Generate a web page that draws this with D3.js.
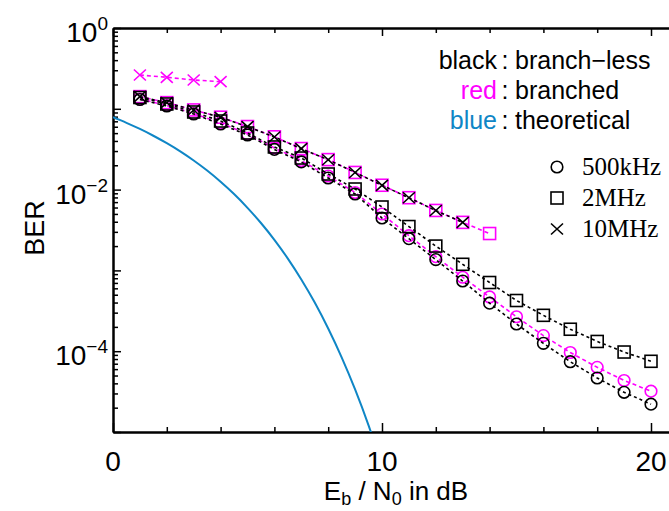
<!DOCTYPE html>
<html><head><meta charset="utf-8">
<script src="https://cdn.jsdelivr.net/npm/d3@7"></script>
<style>html,body{margin:0;padding:0;background:#fff;}svg{display:block;}</style>
</head><body>
<svg id="chart" width="669" height="511"></svg>
<script>
// ---------------- data ----------------
const snrDb = [1,2,3,4,5,6,7,8,9,10,11,12,13,14,15,16,17,18,19,20];
const black500k = [0.1303,0.1083,0.0862,0.0648,0.0474,0.0314,0.0220,0.01392,0.00882,0.00445,0.00247,0.00136,0.000739,0.000393,0.000217,0.000125,0.0000741,0.0000466,0.0000310,0.0000221];
const black2M = [0.1380,0.1147,0.0913,0.0706,0.0502,0.0337,0.0246,0.0156,0.01017,0.00609,0.00349,0.00200,0.00119,0.000708,0.000424,0.000278,0.000187,0.000132,0.0000977,0.0000750];
const black10M = [0.1412,0.1190,0.0966,0.0785,0.0601,0.0448,0.0321,0.0234,0.01628,0.01130,0.00792,0.00551,0.00392];
const red500k = [0.1322,0.1098,0.0875,0.0667,0.0488,0.0327,0.0229,0.01474,0.00921,0.00499,0.00269,0.00148,0.000823,0.000469,0.000267,0.000156,0.0000964,0.0000632,0.0000434,0.0000320];
const red2M = [0.1415,0.1192,0.0968,0.0787,0.0603,0.0450,0.0322,0.0235,0.01630,0.01132,0.00794,0.00552,0.00393,0.00286];
const red10M = [0.262,0.2454,0.2272,0.2165];
const theoryDb = [0,0.5,1,1.5,2,2.5,3,3.5,4,4.5,5,5.5,6,6.5,7,7.5,8,8.5,9,9.5,10];
const theoryBER = [0.0786,0.0671,0.0563,0.0464,0.0375,0.0297,0.0229,0.0172,0.0125,0.0088,0.00595,0.00386,0.00239,0.0014,0.000773,0.0004,0.000191,0.000084,0.0000336,0.0000121,0.00000387];

const xMajor = [0,10,20];
const xMinor = [2,4,6,8,12,14,16,18];
const yMajor = [1,1e-1,1e-2,1e-3,1e-4,1e-5];
const yLabels = [{v:1,e:"0"},{v:1e-2,e:"\u22122"},{v:1e-4,e:"\u22124"}];
const legendRows = [
  {word:"black", color:"#000000", desc:"branch\u2212less"},
  {word:"red", color:"#ff00ff", desc:"branched"},
  {word:"blue", color:"#0f86c6", desc:"theoretical"}
];
const freqLabels = ["500kHz","2MHz","10MHz"];
const freqShapes = ["circle","square","cross"];

// ---------------- layout ----------------
const svg = d3.select("#chart");
const L = 113, T = 28, B = 432;
const x = d3.scaleLinear().domain([0,21]).range([L, L + 21*26.9]);
const y = d3.scaleLog().domain([1e-5,1]).range([B, T]);
const MAG = "#ff00ff", BLUE = "#0f86c6";
const sans = "'Liberation Sans', Arial, Helvetica, sans-serif";
const serif = "'Liberation Serif', 'Times New Roman', serif";

svg.append("defs").append("clipPath").attr("id","plotclip")
  .append("rect").attr("x",L).attr("y",T).attr("width",700).attr("height",B-T);

const yMinor = [];
for (let k=-5;k<0;k++) for (let m=2;m<=9;m++) yMinor.push(m*Math.pow(10,k));

function styleAxis(g){
  g.selectAll("path.domain").attr("stroke","#000").attr("stroke-width",2);
  g.selectAll(".tick line").attr("stroke","#000").attr("stroke-width",1.5);
  g.selectAll("text").remove();
}
svg.append("g").attr("transform",`translate(${L},0)`)
  .call(d3.axisRight(y).tickValues(yMajor).tickSize(8).tickSizeOuter(0).tickFormat(""))
  .call(styleAxis);
svg.append("g").attr("transform",`translate(${L},0)`)
  .call(d3.axisRight(y).tickValues(yMinor).tickSize(5).tickSizeOuter(0).tickFormat(""))
  .call(styleAxis);
svg.append("g").attr("transform",`translate(0,${B})`)
  .call(d3.axisTop(x).tickValues(xMajor).tickSize(9).tickSizeOuter(0).tickFormat(""))
  .call(styleAxis);
svg.append("g").attr("transform",`translate(0,${B})`)
  .call(d3.axisTop(x).tickValues(xMinor).tickSize(5).tickSizeOuter(0).tickFormat(""))
  .call(styleAxis);
svg.append("g").attr("transform",`translate(0,${T})`)
  .call(d3.axisBottom(x).tickValues(xMajor).tickSize(8).tickSizeOuter(0).tickFormat(""))
  .call(styleAxis);
svg.append("g").attr("transform",`translate(0,${T})`)
  .call(d3.axisBottom(x).tickValues(xMinor).tickSize(5).tickSizeOuter(0).tickFormat(""))
  .call(styleAxis);

// tick labels
const ylab = svg.append("g").attr("font-family",sans).attr("fill","#000");
yLabels.forEach(d=>{
  const t = ylab.append("text").attr("x",108).attr("y",y(d.v)+14).attr("text-anchor","end");
  t.append("tspan").attr("font-size",28).text("10");
  t.append("tspan").attr("font-size",19).attr("dy",-12).text(d.e);
});
svg.append("g").selectAll("text").data(xMajor).join("text")
  .attr("x",d=>x(d)).attr("y",471).attr("text-anchor","middle")
  .attr("font-family",sans).attr("font-size",28).text(d=>d);

// axis titles
svg.append("text").attr("transform","translate(44,228) rotate(-90)")
  .attr("text-anchor","middle").attr("font-family",sans).attr("font-size",27).text("BER");
const xt = svg.append("text").attr("x",396).attr("y",500).attr("text-anchor","middle")
  .attr("font-family",sans).attr("font-size",26);
xt.append("tspan").text("E");
xt.append("tspan").attr("font-size",18).attr("dy",5).text("b");
xt.append("tspan").attr("dy",-5).text(" / N");
xt.append("tspan").attr("font-size",18).attr("dy",5).text("0");
xt.append("tspan").attr("dy",-5).text(" in dB");

// theoretical curve
const plot = svg.append("g").attr("clip-path","url(#plotclip)");
plot.append("path")
  .datum(theoryDb.map((d,i)=>[d,theoryBER[i]]))
  .attr("fill","none").attr("stroke",BLUE).attr("stroke-width",2)
  .attr("d", d3.line().x(d=>x(d[0])).y(d=>y(d[1])).curve(d3.curveMonotoneX));

// series
const series = [
  {vals:red500k, color:MAG, shape:"circle", dash:"4,3"},
  {vals:red2M, color:MAG, shape:"square", dash:"4,3"},
  {vals:red10M, color:MAG, shape:"cross", dash:"4,3"},
  {vals:black500k, color:"#000", shape:"circle", dash:"3,3"},
  {vals:black2M, color:"#000", shape:"square", dash:"3,3"},
  {vals:black10M, color:"#000", shape:"cross", dash:"3,3"}
];
function drawMarker(g, shape, cx, cy, color){
  if (shape==="circle") {
    g.append("circle").attr("cx",cx).attr("cy",cy).attr("r",5.8)
      .attr("fill","none").attr("stroke",color).attr("stroke-width",1.6);
  } else if (shape==="square") {
    g.append("rect").attr("x",cx-6).attr("y",cy-6).attr("width",12).attr("height",12)
      .attr("fill","none").attr("stroke",color).attr("stroke-width",1.6);
  } else {
    const sx=6, sy=5.5;
    g.append("path").attr("d",`M${cx-sx},${cy-sy}L${cx+sx},${cy+sy}M${cx-sx},${cy+sy}L${cx+sx},${cy-sy}`)
      .attr("fill","none").attr("stroke",color).attr("stroke-width",1.6);
  }
}
series.forEach(s=>{
  const pts = s.vals.map((v,i)=>[snrDb[i],v]);
  plot.append("path").datum(pts).attr("fill","none").attr("stroke",s.color)
    .attr("stroke-width",1.6).attr("stroke-dasharray",s.dash)
    .attr("d", d3.line().x(d=>x(d[0])).y(d=>y(d[1])));
  const g = plot.append("g");
  pts.forEach(p=>drawMarker(g, s.shape, x(p[0]), y(p[1]), s.color));
});

// color legend
const lg = svg.append("g").attr("font-family",sans).attr("font-size",25);
legendRows.forEach((r,i)=>{
  const by = 69 + i*30;
  lg.append("text").attr("x",497).attr("y",by).attr("text-anchor","end").attr("fill",r.color).text(r.word);
  lg.append("text").attr("x",505).attr("y",by).attr("text-anchor","middle").attr("fill","#000").text(":");
  lg.append("text").attr("x",515).attr("y",by).attr("fill","#000").text(r.desc);
});
// marker legend
const mg = svg.append("g");
freqLabels.forEach((f,i)=>{
  const cy = 167 + i*31;
  drawMarker(mg, freqShapes[i], 557, cy, "#000");
  mg.append("text").attr("x",582).attr("y",cy+8).attr("font-family",serif).attr("font-size",25).text(f);
});
</script>
</body></html>
